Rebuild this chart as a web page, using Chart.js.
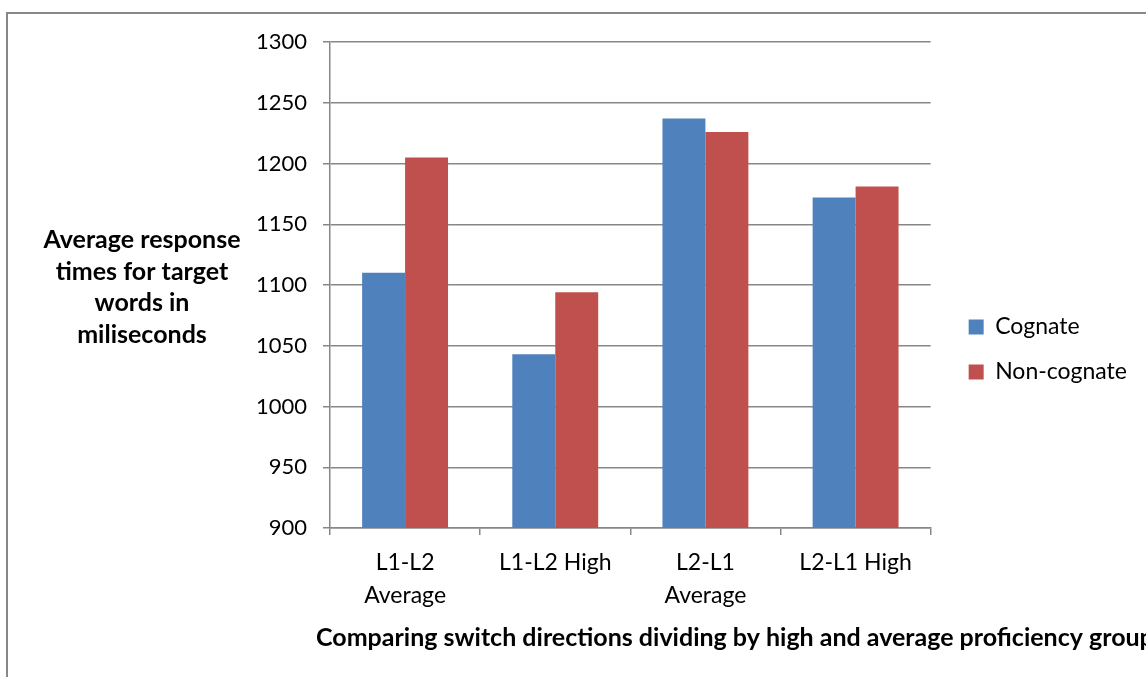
<!DOCTYPE html>
<html><head><meta charset="utf-8">
<script src="https://cdn.jsdelivr.net/npm/chart.js@4/dist/chart.umd.min.js"></script>
<style>
html,body{margin:0;padding:0;background:#fff;overflow:hidden}
#wrap{position:relative;width:1146px;height:677px;overflow:hidden}
#frame{position:absolute;left:6px;top:12px;width:1300px;height:900px;border:2px solid #878787;box-sizing:border-box;pointer-events:none}
canvas{position:absolute;left:0;top:0}
</style></head><body>
<div id="wrap"><canvas id="c" width="1146" height="677" style="width:1146px;height:677px"></canvas><div id="frame"></div></div>
<script>
const categories = [["L1-L2", "Average"], "L1-L2 High", ["L2-L1", "Average"], "L2-L1 High"];
const seriesNames = ["Cognate", "Non-cognate"];
const cognate = [1110, 1043, 1237, 1172];
const nonCognate = [1205, 1094, 1226, 1181];
const yMin = 900, yMax = 1300, yStep = 50;
const yTitleLines = ["Average response", "times for target", "words in", "miliseconds"];
const xTitle = "Comparing switch directions dividing by high and average proficiency group";

const FONT = "Lato";
const axisTitles = {
  id: 'axisTitles',
  afterDraw(chart) {
    const ctx = chart.ctx, a = chart.chartArea;
    ctx.save();
    ctx.font = "bold 25px " + FONT;
    ctx.fillStyle = "#000";
    ctx.textBaseline = "middle";
    ctx.textAlign = "center";
    yTitleLines.forEach((t, i) => ctx.fillText(t, a.left - 188, 240 + i * 31.5));
    ctx.textAlign = "left";
    ctx.fillText(xTitle, a.left - 14, a.bottom + 110);
    ctx.restore();
  }
};

new Chart(document.getElementById('c'), {
  type: 'bar',
  data: {
    labels: categories,
    datasets: [
      { label: seriesNames[0], data: cognate, backgroundColor: '#4F81BD', borderWidth: 0 },
      { label: seriesNames[1], data: nonCognate, backgroundColor: '#C0504D', borderWidth: 0 }
    ]
  },
  options: {
    responsive: false,
    devicePixelRatio: 1,
    animation: false,
    layout: { padding: { top: 42, left: 0, right: 10, bottom: 20 } },
    datasets: { bar: { categoryPercentage: 0.572, barPercentage: 1.0 } },
    plugins: {
      tooltip: { enabled: false },
      legend: {
        position: 'right',
        labels: { boxWidth: 15, boxHeight: 15, padding: 22, color: '#000', font: { family: FONT, size: 23 } }
      }
    },
    scales: {
      x: {
        grid: { drawOnChartArea: false, drawTicks: true, tickLength: 7, color: '#878787', lineWidth: 1.5 },
        border: { color: '#878787', width: 1.5 },
        ticks: { color: '#000', padding: 11, font: { family: FONT, size: 23, lineHeight: 1.43 }, maxRotation: 0 },
        afterFit(s) { s.height = 129; }
      },
      y: {
        min: yMin, max: yMax,
        grid: { color: '#878787', lineWidth: 1.5, tickLength: 7 },
        border: { color: '#878787', width: 1.5 },
        ticks: { stepSize: yStep, color: '#000', padding: 16, font: { family: FONT, size: 22 },
                 callback: v => String(v) },
        afterFit(s) { s.width = 330; }
      },
      spacer: {
        type: 'linear', position: 'right', display: true,
        grid: { display: false, drawTicks: false }, border: { display: false },
        ticks: { display: false },
        afterFit(s) { s.width = 16; }
      }
    }
  },
  plugins: [axisTitles]
});
</script>
</body></html>
